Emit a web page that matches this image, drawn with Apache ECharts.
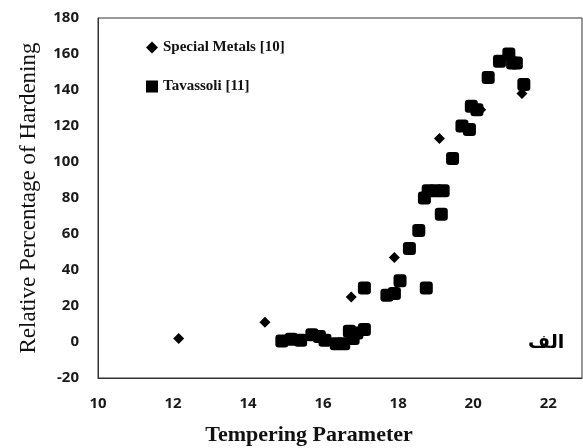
<!DOCTYPE html>
<html>
<head>
<meta charset="utf-8">
<script src="https://cdn.jsdelivr.net/npm/echarts@6/dist/echarts.min.js"></script>
<style>
  html, body { margin: 0; padding: 0; background: #fff; }
  #chart { width: 583px; height: 448px; }
</style>
</head>
<body>
<div id="chart"></div>
<script>
// Special Metals [10] - diamonds
const specialX = [12.15, 14.45, 16.75, 17.9, 19.1, 20.2, 21.3]
const specialY = [2, 11, 25, 47, 113, 129, 138]

// Tavassoli [11] - squares
const tavX = [14.9, 15.15, 15.4, 15.7, 15.9, 16.05, 16.35, 16.55, 16.7, 16.8, 16.9, 17.1,
  17.1, 17.7, 17.9, 18.05, 18.3, 18.55, 18.7, 18.8, 19.0, 19.2, 18.75, 19.15,
  19.45, 19.7, 19.9, 19.95, 20.1, 20.4, 20.7, 20.95, 21.05, 21.15, 21.35]
const tavY = [0.5, 1.5, 1, 4, 3, 1, -1, -1, 6, 2, 5, 7,
  30, 26, 27, 34, 52, 62, 80, 84, 84, 84, 30, 71,
  102, 120, 118, 131, 129, 147, 156, 160, 155, 155, 143]

const xTicks = [10, 12, 14, 16, 18, 20, 22]
const yTicks = [-20, 0, 20, 40, 60, 80, 100, 120, 140, 160, 180]

const pair = (xs, ys) => xs.map((x, i) => [x, ys[i]])

const myChart = echarts.init(document.getElementById('chart'))

const labelFont = { fontFamily: 'Open Sans', fontWeight: 'bold', fontSize: 15, color: '#1a1a1a' }

myChart.setOption({
  backgroundColor: '#fff',
  animation: false,
  grid: {
    left: 98, right: 1, top: 18, bottom: 70,
    outerBoundsMode: 'none',
    show: true, borderColor: '#333', borderWidth: 1
  },
  legend: {
    orient: 'vertical',
    left: 141, top: 35,
    itemGap: 24,
    itemWidth: 12, itemHeight: 12,
    textStyle: { fontFamily: 'Liberation Serif', fontWeight: 'bold', fontSize: 15, color: '#111' },
    data: [
      { name: 'Special Metals [10]', icon: 'diamond' },
      { name: 'Tavassoli [11]', icon: 'rect' }
    ]
  },
  xAxis: {
    type: 'value',
    min: xTicks[0], max: 22.9, interval: 2,
    axisLine: { onZero: false, lineStyle: { color: '#333' } },
    axisTick: { show: false },
    splitLine: { show: false },
    axisLabel: { ...labelFont, margin: 18, showMaxLabel: false },
    name: 'Tempering Parameter',
    nameLocation: 'middle',
    nameGap: 46,
    nameTextStyle: {
      fontFamily: 'Liberation Serif', fontWeight: 'bold', fontSize: 22, color: '#111',
      padding: [0, 62, 0, 0]
    }
  },
  yAxis: {
    type: 'value',
    min: yTicks[0], max: yTicks[yTicks.length - 1], interval: 20,
    axisLine: { show: true, onZero: false, lineStyle: { color: '#333' } },
    axisTick: { show: false },
    splitLine: { show: false },
    axisLabel: { ...labelFont, margin: 19 },
    name: 'Relative Percentage of Hardening',
    nameLocation: 'middle',
    nameGap: 58,
    nameTextStyle: { fontFamily: 'Liberation Serif', fontSize: 23, color: '#111' }
  },
  series: [
    {
      name: 'Special Metals [10]',
      type: 'scatter',
      symbol: 'diamond',
      symbolSize: 11,
      itemStyle: { color: '#000', opacity: 1 },
      data: pair(specialX, specialY),
      z: 3
    },
    {
      name: 'Tavassoli [11]',
      type: 'scatter',
      symbol: 'roundRect',
      symbolSize: 13,
      itemStyle: { color: '#000', opacity: 1 },
      data: pair(tavX, tavY),
      z: 2
    }
  ],
  graphic: [
    {
      type: 'text',
      left: 528, top: 334,
      style: { text: 'الف', font: 'bold 19px "DejaVu Sans"', fill: '#000' }
    }
  ]
})

window.addEventListener('resize', () => {
  myChart.resize()
})
</script>
</body>
</html>
